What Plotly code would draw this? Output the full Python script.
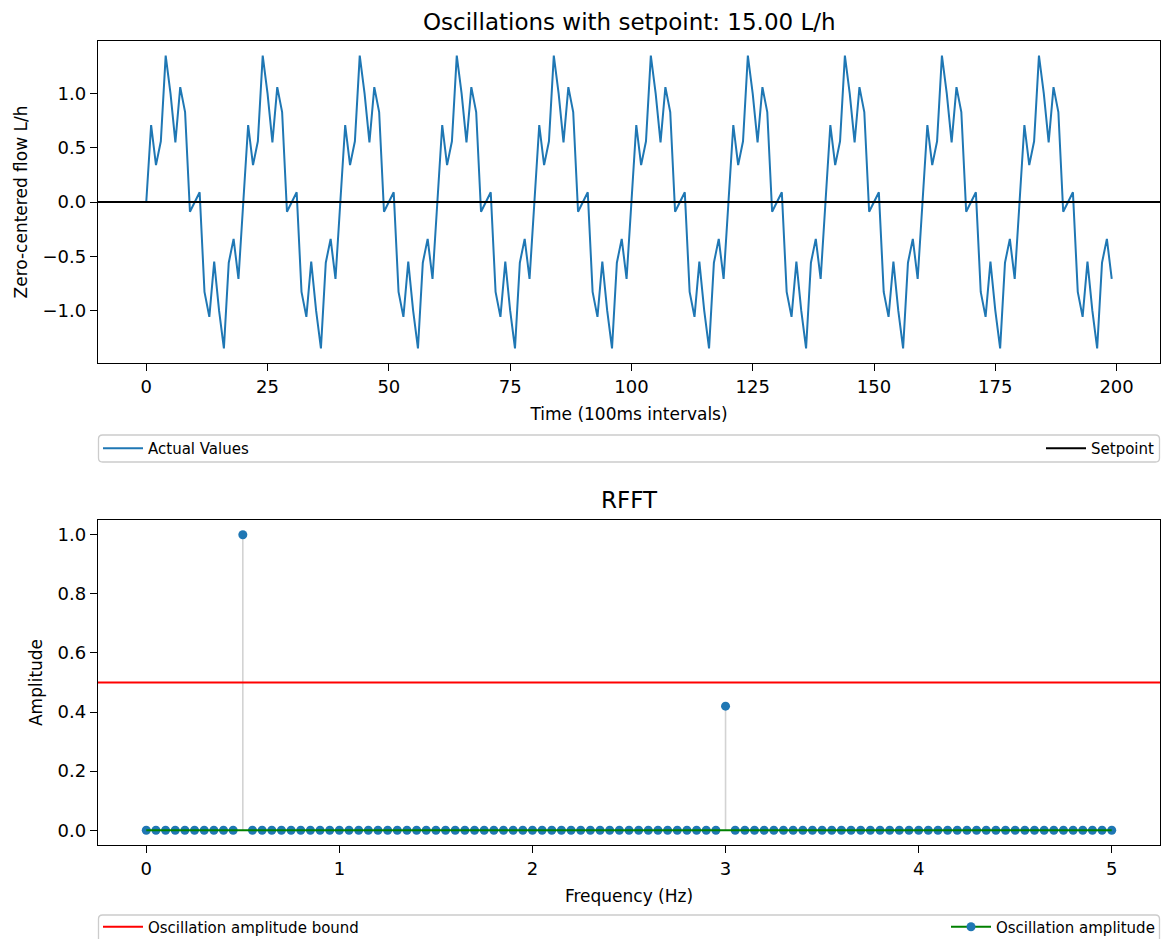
import plotly.graph_objects as go

# ---------------- data ----------------
title_top = "Oscillations with setpoint: 15.00 L/h"
title_bottom = "RFFT"
setpoint = 0.0
amplitude_bound = 0.5

# zero-centered flow samples (100 ms intervals)
flow = [
    0.00, 0.71, 0.34, 0.56, 1.35, 1.00, 0.55, 1.06, 0.83, -0.09, 0.00, 0.09, -0.83, -1.06, -0.55, -1.00, -1.35, -0.56, -0.34, -0.71,
    0.00, 0.71, 0.34, 0.56, 1.35, 1.00, 0.55, 1.06, 0.83, -0.09, 0.00, 0.09, -0.83, -1.06, -0.55, -1.00, -1.35, -0.56, -0.34, -0.71,
    0.00, 0.71, 0.34, 0.56, 1.35, 1.00, 0.55, 1.06, 0.83, -0.09, 0.00, 0.09, -0.83, -1.06, -0.55, -1.00, -1.35, -0.56, -0.34, -0.71,
    0.00, 0.71, 0.34, 0.56, 1.35, 1.00, 0.55, 1.06, 0.83, -0.09, 0.00, 0.09, -0.83, -1.06, -0.55, -1.00, -1.35, -0.56, -0.34, -0.71,
    0.00, 0.71, 0.34, 0.56, 1.35, 1.00, 0.55, 1.06, 0.83, -0.09, 0.00, 0.09, -0.83, -1.06, -0.55, -1.00, -1.35, -0.56, -0.34, -0.71,
    0.00, 0.71, 0.34, 0.56, 1.35, 1.00, 0.55, 1.06, 0.83, -0.09, 0.00, 0.09, -0.83, -1.06, -0.55, -1.00, -1.35, -0.56, -0.34, -0.71,
    0.00, 0.71, 0.34, 0.56, 1.35, 1.00, 0.55, 1.06, 0.83, -0.09, 0.00, 0.09, -0.83, -1.06, -0.55, -1.00, -1.35, -0.56, -0.34, -0.71,
    0.00, 0.71, 0.34, 0.56, 1.35, 1.00, 0.55, 1.06, 0.83, -0.09, 0.00, 0.09, -0.83, -1.06, -0.55, -1.00, -1.35, -0.56, -0.34, -0.71,
    0.00, 0.71, 0.34, 0.56, 1.35, 1.00, 0.55, 1.06, 0.83, -0.09, 0.00, 0.09, -0.83, -1.06, -0.55, -1.00, -1.35, -0.56, -0.34, -0.71,
    0.00, 0.71, 0.34, 0.56, 1.35, 1.00, 0.55, 1.06, 0.83, -0.09, 0.00, 0.09, -0.83, -1.06, -0.55, -1.00, -1.35, -0.56, -0.34, -0.71,
]
time_idx = list(range(len(flow)))

freqs = [
    0.00, 0.05, 0.10, 0.15, 0.20, 0.25, 0.30, 0.35, 0.40, 0.45,
    0.50, 0.55, 0.60, 0.65, 0.70, 0.75, 0.80, 0.85, 0.90, 0.95,
    1.00, 1.05, 1.10, 1.15, 1.20, 1.25, 1.30, 1.35, 1.40, 1.45,
    1.50, 1.55, 1.60, 1.65, 1.70, 1.75, 1.80, 1.85, 1.90, 1.95,
    2.00, 2.05, 2.10, 2.15, 2.20, 2.25, 2.30, 2.35, 2.40, 2.45,
    2.50, 2.55, 2.60, 2.65, 2.70, 2.75, 2.80, 2.85, 2.90, 2.95,
    3.00, 3.05, 3.10, 3.15, 3.20, 3.25, 3.30, 3.35, 3.40, 3.45,
    3.50, 3.55, 3.60, 3.65, 3.70, 3.75, 3.80, 3.85, 3.90, 3.95,
    4.00, 4.05, 4.10, 4.15, 4.20, 4.25, 4.30, 4.35, 4.40, 4.45,
    4.50, 4.55, 4.60, 4.65, 4.70, 4.75, 4.80, 4.85, 4.90, 4.95,
    5.00,
]
amplitudes = [
    0, 0, 0, 0, 0, 0, 0, 0, 0, 0,
    1.0, 0, 0, 0, 0, 0, 0, 0, 0, 0,
    0, 0, 0, 0, 0, 0, 0, 0, 0, 0,
    0, 0, 0, 0, 0, 0, 0, 0, 0, 0,
    0, 0, 0, 0, 0, 0, 0, 0, 0, 0,
    0, 0, 0, 0, 0, 0, 0, 0, 0, 0,
    0.42, 0, 0, 0, 0, 0, 0, 0, 0, 0,
    0, 0, 0, 0, 0, 0, 0, 0, 0, 0,
    0, 0, 0, 0, 0, 0, 0, 0, 0, 0,
    0, 0, 0, 0, 0, 0, 0, 0, 0, 0,
    0,
]
time_ticks = [0, 25, 50, 75, 100, 125, 150, 175, 200]
flow_ticks = [-1.0, -0.5, 0.0, 0.5, 1.0]
freq_ticks = [0, 1, 2, 3, 4, 5]
amp_ticks = [0.0, 0.2, 0.4, 0.6, 0.8, 1.0]

# ---------------- layout geometry ----------------
W, H = 1161, 939
PL, PR, PT, PB = 98, 1160, 41, 845  # plot area in px
pw, ph = PR - PL, PB - PT


def px_x(px):
    return (px - PL) / pw


def px_y(py):
    return (PB - py) / ph


C0 = "#1f77b4"
FONT = "DejaVu Sans"

fig = go.Figure()

# top: actual values
fig.add_trace(go.Scatter(
    x=time_idx, y=flow, mode="lines", name="Actual Values",
    line=dict(color=C0, width=2), xaxis="x", yaxis="y", legend="legend",
))

# bottom: stem plot
stem_x, stem_y = [], []
for f, a in zip(freqs, amplitudes):
    stem_x += [f, f, None]
    stem_y += [0, a, None]
fig.add_trace(go.Scatter(
    x=stem_x, y=stem_y, mode="lines", line=dict(color="#d3d3d3", width=1.6),
    showlegend=False, hoverinfo="skip", xaxis="x2", yaxis="y2",
))
fig.add_trace(go.Scatter(
    x=freqs, y=amplitudes, mode="markers", marker=dict(color=C0, size=9),
    showlegend=False, xaxis="x2", yaxis="y2",
))
fig.add_trace(go.Scatter(
    x=[freqs[0], freqs[-1]], y=[0, 0], mode="lines", line=dict(color="green", width=2),
    showlegend=False, hoverinfo="skip", xaxis="x2", yaxis="y2",
))
fig.add_trace(go.Scatter(
    x=[None], y=[None], mode="lines+markers", name="Oscillation amplitude",
    line=dict(color="green", width=2), marker=dict(color=C0, size=9),
    xaxis="x2", yaxis="y2", legend="legend4",
))

# horizontal reference lines as shapes with legend entries
fig.add_shape(type="line", xref="x domain", yref="y", x0=0, x1=1, y0=setpoint, y1=setpoint,
              line=dict(color="black", width=2), showlegend=True, name="Setpoint", legend="legend2")
fig.add_shape(type="line", xref="x2 domain", yref="y2", x0=0, x1=1, y0=amplitude_bound, y1=amplitude_bound,
              line=dict(color="red", width=1.8), showlegend=True, name="Oscillation amplitude bound",
              legend="legend3")


def rounded_box(x0p, y0p, x1p, y1p, r=4):
    # px coordinates -> path in paper coords
    rx, ry = r / pw, r / ph
    a, b = px_x(x0p), px_x(x1p)
    top, bot = px_y(y0p), px_y(y1p)
    return (f"M{a+rx},{top} L{b-rx},{top} Q{b},{top} {b},{top-ry} "
            f"L{b},{bot+ry} Q{b},{bot} {b-rx},{bot} L{a+rx},{bot} "
            f"Q{a},{bot} {a},{bot+ry} L{a},{top-ry} Q{a},{top} {a+rx},{top} Z")


for (y0p, y1p) in [(435, 462), (915, 946)]:
    fig.add_shape(type="path", xref="paper", yref="paper", layer="below",
                  path=rounded_box(98.5, y0p, 1159.5, y1p),
                  line=dict(color="#cccccc", width=1.3), fillcolor="white")

axis_common = dict(
    showline=True, mirror=True, linecolor="black", linewidth=1.3,
    ticks="outside", ticklen=7, tickwidth=1.3, tickcolor="black",
    showgrid=False, zeroline=False, tickfont=dict(size=18, color="black", family=FONT),
)

top_dom = [px_y(363), 1.0]
bot_dom = [0.0, px_y(520)]

legend_common = dict(bgcolor="rgba(0,0,0,0)", borderwidth=0, font=dict(size=15, family=FONT, color="black"),
                     orientation="h", yanchor="middle", itemwidth=40)

fig.update_layout(
    width=W, height=H,
    margin=dict(l=PL, r=W - PR, t=PT, b=H - PB, pad=0, autoexpand=False),
    paper_bgcolor="white", plot_bgcolor="white",
    font=dict(family=FONT, color="black"),
    xaxis=dict(domain=[0, 1], anchor="y", range=[-9.95, 208.95], tickvals=time_ticks, automargin=False,
               title=dict(text="Time (100ms intervals)", font=dict(size=17), standoff=12), **axis_common),
    yaxis=dict(domain=top_dom, anchor="x", range=[-1.485, 1.485], tickvals=flow_ticks, tickformat=".1f",
               automargin=False,
               title=dict(text="Zero-centered flow L/h", font=dict(size=17), standoff=10), **axis_common),
    xaxis2=dict(domain=[0, 1], anchor="y2", range=[-0.25, 5.25], tickvals=freq_ticks, automargin=False,
                title=dict(text="Frequency (Hz)", font=dict(size=17), standoff=12), **axis_common),
    yaxis2=dict(domain=bot_dom, anchor="x2", range=[-0.05, 1.05], tickvals=amp_ticks, tickformat=".1f",
                automargin=False,
                title=dict(text="Amplitude", font=dict(size=17), standoff=10), **axis_common),
    legend=dict(x=0, xanchor="left", y=px_y(448.5), **legend_common),
    legend2=dict(x=1, xanchor="right", y=px_y(448.5), **legend_common),
    legend3=dict(x=0, xanchor="left", y=px_y(927), **legend_common),
    legend4=dict(x=1, xanchor="right", y=px_y(927), **legend_common),
    annotations=[
        dict(text=title_top, xref="paper", yref="paper", x=0.5, y=px_y(22), xanchor="center",
             yanchor="middle", showarrow=False, font=dict(size=23, family=FONT, color="black")),
        dict(text=title_bottom, xref="paper", yref="paper", x=0.5, y=px_y(500), xanchor="center",
             yanchor="middle", showarrow=False, font=dict(size=23, family=FONT, color="black")),
    ],
)

fig.write_html("out.html")
